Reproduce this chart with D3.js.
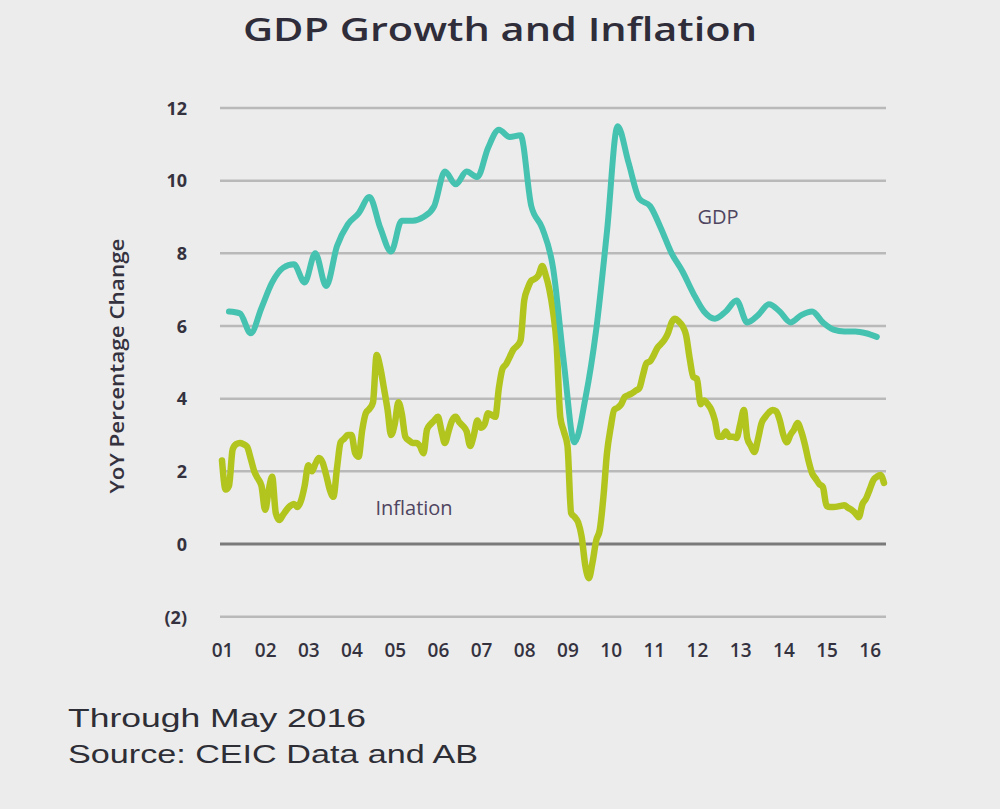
<!DOCTYPE html>
<html><head><meta charset="utf-8">
<script src="https://cdn.jsdelivr.net/npm/d3@7"></script>
<style>
html,body{margin:0;padding:0;background:#ececec;}
svg{display:block;}
</style></head>
<body>
<svg id="chart" width="1000" height="809"></svg>
<script>
// ---- data ----
const yTicks = [-2, 0, 2, 4, 6, 8, 10, 12];
const yearLabels = ["01","02","03","04","05","06","07","08","09","10","11","12","13","14","15","16"];
// Real GDP growth, quarterly (2001Q1 .. 2016Q1), YoY %
const gdpStart = "2001-03";
const gdpValues = [6.4,6.35,5.8,6.5,7.2,7.6,7.7,7.2,8.0,7.1,8.2,8.8,9.1,9.55,8.7,8.05,
  8.9,8.9,9.0,9.3,10.25,9.9,10.25,10.1,10.9,11.4,11.2,11.25,9.3,8.7,7.6,5.0,
  2.8,4.0,5.9,8.6,11.5,10.5,9.5,9.3,8.7,8.0,7.5,6.9,6.4,6.2,6.4,6.7,
  6.1,6.3,6.6,6.4,6.1,6.3,6.4,6.1,5.9,5.85,5.85,5.8,5.7];
// Inflation, monthly (2001-01 .. 2016-05), YoY %
const inflStart = "2001-01";
const inflValues = [2.3,1.5,1.6,2.6,2.75,2.78,2.75,2.68,2.35,2.0,1.8,1.6,
  0.94,1.5,1.85,0.85,0.66,0.8,0.94,1.05,1.1,1.02,1.2,1.6,
  2.17,2.0,2.2,2.37,2.25,1.9,1.5,1.3,2.1,2.8,2.9,3.0,
  3.0,2.5,2.4,3.14,3.6,3.72,3.9,5.2,4.85,4.3,3.7,3.0,
  3.3,3.9,3.6,2.95,2.85,2.78,2.78,2.7,2.5,3.15,3.3,3.4,
  3.5,3.1,2.78,3.1,3.4,3.5,3.35,3.25,3.1,2.7,3.0,3.4,
  3.2,3.3,3.6,3.55,3.5,4.3,4.82,4.95,5.15,5.35,5.45,5.6,
  6.7,7.05,7.25,7.3,7.4,7.65,7.4,7.0,6.4,5.5,3.5,3.1,
  2.7,0.85,0.75,0.6,0.2,-0.6,-0.94,-0.5,0.1,0.39,1.3,2.5,
  3.2,3.7,3.75,3.85,4.05,4.1,4.15,4.22,4.29,4.65,4.98,5.03,
  5.2,5.4,5.5,5.62,5.8,6.1,6.2,6.12,6.0,5.75,5.1,4.6,
  4.55,3.85,3.95,3.85,3.7,3.4,2.95,2.95,3.1,2.95,2.95,2.92,
  3.3,3.69,2.92,2.7,2.53,2.9,3.33,3.5,3.62,3.69,3.65,3.41,
  3.0,2.8,3.0,3.15,3.33,3.1,2.75,2.3,1.95,1.8,1.65,1.57,
  1.05,1.02,1.02,1.03,1.05,1.07,1.0,0.94,0.85,0.74,1.1,1.25,
  1.5,1.76,1.85,1.9,1.68];

// ---- helpers ----
const parse = d3.timeParse("%Y-%m");
function monthSeries(start, step, values){
  const s = parse(start);
  return values.map((v,i)=>({date: d3.timeMonth.offset(s, i*step), value: v}));
}
const gdp = monthSeries(gdpStart, 3, gdpValues);
const infl = monthSeries(inflStart, 1, inflValues);

const svg = d3.select("#chart");
const W = 1000, H = 809;
svg.append("rect").attr("width",W).attr("height",H).attr("fill","#ececec");

const x = d3.scaleTime()
  .domain([parse("2001-01"), parse("2016-05")])
  .range([222, 884]);
const y = d3.scaleLinear().domain([-2, 12]).range([616.7, 108]);

const gridX0 = 220, gridX1 = 886;
const textCol = "#35323f";

// gridlines
svg.append("g").selectAll("line").data(yTicks).join("line")
  .attr("x1", gridX0).attr("x2", gridX1)
  .attr("y1", d=>y(d)).attr("y2", d=>y(d))
  .attr("stroke", d=> d===0 ? "#7a7a7a" : "#b9b9b9")
  .attr("stroke-width", d=> d===0 ? 3 : 2.5);

// y axis labels
const yAxis = d3.axisLeft(y).tickValues(yTicks)
  .tickFormat(d => d < 0 ? "(" + Math.abs(d) + ")" : d)
  .tickSize(0).tickPadding(0);
const gy = svg.append("g").attr("transform","translate(187,0)").call(yAxis);
gy.select(".domain").remove();
gy.selectAll("text").attr("font-family","'Open Sans', sans-serif")
  .attr("font-size", 18).attr("font-weight", 700).attr("fill", textCol).attr("dy","0.35em");

// x axis labels
const xAxis = d3.axisBottom(x)
  .tickValues(yearLabels.map(l => parse("20" + l + "-01")))
  .tickFormat((d,i) => yearLabels[i]).tickSize(0).tickPadding(0);
const gx = svg.append("g").attr("transform","translate(0,650)").call(xAxis);
gx.select(".domain").remove();
gx.selectAll("text").attr("font-family","'Open Sans', sans-serif")
  .attr("font-size", 19).attr("font-weight", 600).attr("fill", textCol)
  .attr("dy","0.35em").attr("y",0);

// axis title
svg.append("text")
  .attr("transform","translate(124,366) rotate(-90)")
  .attr("text-anchor","middle")
  .attr("font-family","'Open Sans', sans-serif").attr("font-size",19).attr("font-weight",600)
  .attr("fill", textCol)
  .attr("textLength", 255).attr("lengthAdjust","spacingAndGlyphs")
  .text("YoY Percentage Change");

// lines
const line = d3.line().x(d=>x(d.date)).y(d=>y(d.value)).curve(d3.curveMonotoneX);
svg.append("path").datum(infl).attr("d", line)
  .attr("fill","none").attr("stroke","#b2c51f").attr("stroke-width",6.5)
  .attr("stroke-linejoin","round").attr("stroke-linecap","round");
svg.append("path").datum(gdp).attr("d", line)
  .attr("fill","none").attr("stroke","#46c2b1").attr("stroke-width",6)
  .attr("stroke-linejoin","round").attr("stroke-linecap","round");

// series labels
svg.append("text").attr("x",718).attr("y",224).attr("text-anchor","middle")
  .attr("font-family","'Open Sans', sans-serif").attr("font-size",20)
  .attr("fill","#4f4560").text("GDP");
svg.append("text").attr("x",414).attr("y",515).attr("text-anchor","middle")
  .attr("font-family","'Open Sans', sans-serif").attr("font-size",20)
  .attr("fill","#4f4560").text("Inflation");

// title
svg.append("text").attr("x",500).attr("y",41).attr("text-anchor","middle")
  .attr("font-family","'Open Sans', sans-serif").attr("font-size",33).attr("font-weight",600)
  .attr("fill","#2f2d3a").attr("textLength",514).attr("lengthAdjust","spacingAndGlyphs")
  .text("GDP Growth and Inflation");

// footnotes
svg.append("text").attr("x",68).attr("y",727)
  .attr("font-family","'Liberation Sans', Arial, sans-serif").attr("font-size",26)
  .attr("fill","#2e2e36").attr("textLength",298).attr("lengthAdjust","spacingAndGlyphs")
  .text("Through May 2016");
svg.append("text").attr("x",68).attr("y",763)
  .attr("font-family","'Liberation Sans', Arial, sans-serif").attr("font-size",26)
  .attr("fill","#2e2e36").attr("textLength",410).attr("lengthAdjust","spacingAndGlyphs")
  .text("Source: CEIC Data and AB");
</script>
</body></html>
